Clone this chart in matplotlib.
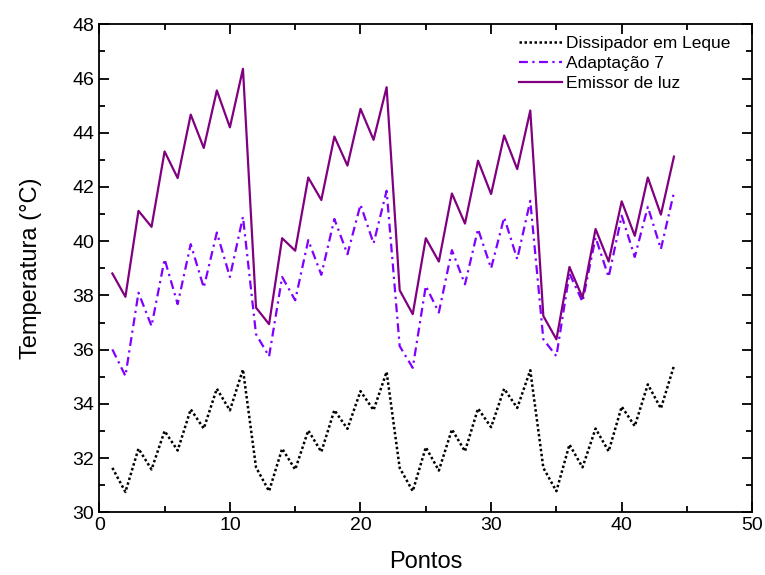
import numpy as np
import matplotlib.pyplot as plt
from matplotlib.ticker import MultipleLocator

plt.rcParams['font.family'] = ['Liberation Sans', 'DejaVu Sans']

# pontos medidos
pontos = np.arange(1, 45)

dissipador = [31.64, 30.75, 32.35, 31.58, 33.0, 32.28, 33.8, 33.09, 34.56, 33.76, 35.27,
              31.66, 30.78, 32.35, 31.58, 33.02, 32.23, 33.77, 33.08, 34.47, 33.77, 35.18,
              31.64, 30.78, 32.4, 31.54, 33.06, 32.25, 33.83, 33.14, 34.56, 33.85, 35.24,
              31.64, 30.78, 32.5, 31.66, 33.09, 32.25, 33.9, 33.18, 34.72, 33.83, 35.4]

adaptacao = [36.01, 35.03, 38.1, 36.87, 39.34, 37.68, 39.89, 38.29, 40.32, 38.68, 40.9,
             36.57, 35.75, 38.68, 37.82, 40.04, 38.76, 40.82, 39.52, 41.35, 39.92, 41.86,
             36.13, 35.33, 38.35, 37.37, 39.67, 38.41, 40.45, 39.0, 40.88, 39.34, 41.49,
             36.38, 35.76, 38.81, 37.77, 40.14, 38.68, 40.94, 39.42, 41.27, 39.71, 41.8]

emissor = [38.81, 37.95, 41.12, 40.53, 43.31, 42.33, 44.67, 43.44, 45.56, 44.2, 46.36,
           37.55, 36.94, 40.11, 39.65, 42.35, 41.52, 43.86, 42.79, 44.88, 43.74, 45.68,
           38.19, 37.31, 40.11, 39.25, 41.76, 40.65, 42.97, 41.74, 43.9, 42.66, 44.82,
           37.24, 36.38, 39.05, 37.92, 40.45, 39.25, 41.47, 40.2, 42.35, 40.98, 43.12]

fig = plt.figure(figsize=(7.65, 5.75), dpi=100)
ax = fig.add_axes([0.1298, 0.109, 0.8536, 0.8487])

ax.plot(pontos, dissipador, color='black', lw=1.8, linestyle=(0, (1, 1)), label='Dissipador em Leque')
ax.plot(pontos, adaptacao, color='#8000ff', lw=1.6, linestyle=(0, (4, 2, 1, 2)), label='Adaptação 7')
ax.plot(pontos, emissor, color='#800080', lw=1.6, label='Emissor de luz')

ax.set_xlim(0, 50)
ax.set_ylim(30, 48)
ax.xaxis.set_major_locator(MultipleLocator(10))
ax.xaxis.set_minor_locator(MultipleLocator(5))
ax.yaxis.set_major_locator(MultipleLocator(2))
ax.yaxis.set_minor_locator(MultipleLocator(1))
ax.tick_params(which='both', direction='in', top=True, right=True, width=1.3, labelsize=14)
ax.tick_params(which='major', length=7)
ax.tick_params(which='minor', length=4)
for s in ax.spines.values():
    s.set_linewidth(1.3)

ax.set_xlabel('Pontos', fontsize=17, labelpad=12)
ax.set_ylabel('Temperatura (°C)', fontsize=17, labelpad=22)

ax.legend(loc='upper right', bbox_to_anchor=(0.977, 0.99), borderaxespad=0, frameon=False,
          fontsize=12.5, handlelength=2.5, handletextpad=0.2, labelspacing=0.27)

fig.savefig('out.png', dpi=100)
